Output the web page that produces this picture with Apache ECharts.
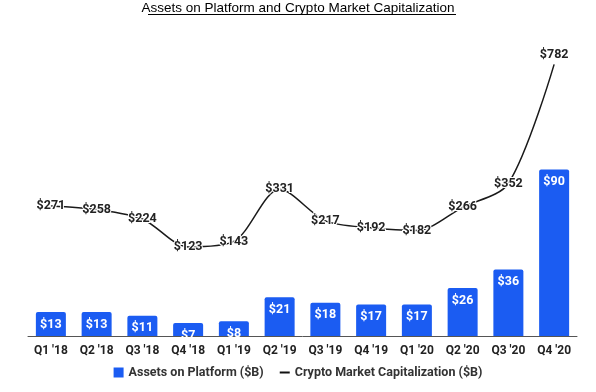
<!DOCTYPE html>
<html><head><meta charset="utf-8">
<script src="https://cdn.jsdelivr.net/npm/echarts@6/dist/echarts.min.js"></script>
<style>html,body{margin:0;padding:0;background:#fff}#c{width:596px;height:392px}</style>
</head><body><div id="c"></div>
<script>
const categories = ["Q1 '18","Q2 '18","Q3 '18","Q4 '18","Q1 '19","Q2 '19","Q3 '19","Q4 '19","Q1 '20","Q2 '20","Q3 '20","Q4 '20"];
const assetsOnPlatform = [13,13,11,7,8,21,18,17,17,26,36,90];
const cryptoMarketCap = [271,258,224,123,143,331,217,192,182,266,352,782];

const chart = echarts.init(document.getElementById('c'), null, {renderer:'canvas'});
const lineData = cryptoMarketCap.map((v,i)=> i===cryptoMarketCap.length-1
  ? {value:v, label:{position:'top', distance:3}} : v);
chart.setOption({
  animation:false,
  title:{text:'Assets on Platform and Crypto Market Capitalization', left:'center', top:1, padding:0,
    textStyle:{fontFamily:'Liberation Sans, Arial', fontSize:13.5, fontWeight:'normal', color:'#000'}},
  graphic:[{type:'line', shape:{x1:148, y1:14.5, x2:456, y2:14.5}, style:{stroke:'#000', lineWidth:1}}],
  legend:{bottom:8, left:'center', itemGap:16, itemWidth:10, itemHeight:10,
    textStyle:{fontFamily:'Roboto', fontWeight:'bold', fontSize:12.5, color:'#333'},
    data:[{name:'Assets on Platform ($B)', icon:'rect'},
          {name:'Crypto Market Capitalization ($B)', icon:'path://M0,4 L10,4 L10,6 L0,6 Z', itemStyle:{color:'#111'}}]},
  grid:{left:28, right:19, top:40, bottom:56},
  xAxis:{type:'category', data:categories,
    axisLine:{lineStyle:{color:'#555', width:1}}, axisTick:{show:false},
    axisLabel:{fontFamily:'Roboto', fontWeight:'bold', fontSize:12, color:'#222', margin:9}},
  yAxis:[{type:'value', min:0, max:160, show:false, splitLine:{show:false}},
         {type:'value', min:-198.6, max:870, show:false, splitLine:{show:false}}],
  series:[
    {name:'Assets on Platform ($B)', type:'bar', data:assetsOnPlatform, barWidth:30,
     itemStyle:{color:'#1b5cf2', borderRadius:[2,2,0,0]},
     label:{show:true, position:'insideTop', distance:6, formatter:'${c}',
       fontFamily:'Roboto', fontWeight:'bold', fontSize:12.5, color:'#fff'}},
    {name:'Crypto Market Capitalization ($B)', type:'line', yAxisIndex:1, data:lineData,
     smooth:0.3, showSymbol:true, symbol:'circle', symbolSize:0.01, z:5,
     lineStyle:{color:'#1a1a1a', width:1.5}, itemStyle:{color:'#1a1a1a'},
     label:{show:true, position:'inside', formatter:'${c}',
       fontFamily:'Roboto', fontWeight:'bold', fontSize:12.5, color:'#222',
       textBorderColor:'#fff', textBorderWidth:2}}
  ]
});
</script></body></html>
